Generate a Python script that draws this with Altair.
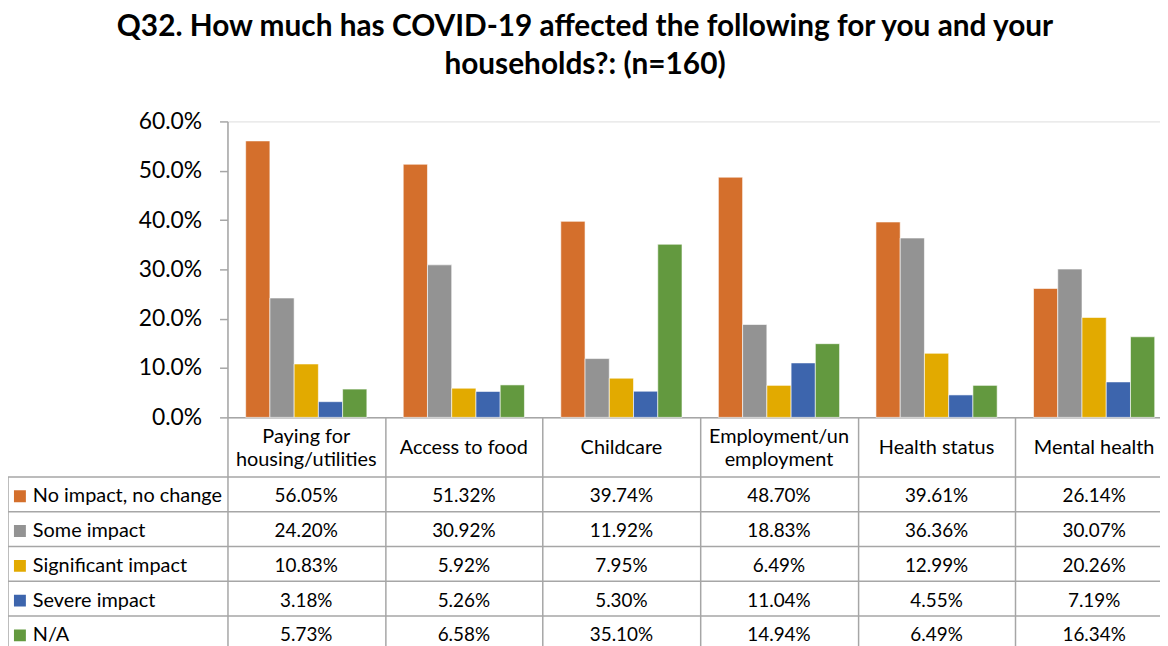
import altair as alt
import pandas as pd

FONT = "Lato"
GRID = "#A6A6A6"

categories = ["Paying for housing/utilities", "Access to food", "Childcare",
              "Employment/unemployment", "Health status", "Mental health"]
header_lines = [["Paying for", "housing/utilities"], ["Access to food"], ["Childcare"],
                ["Employment/un", "employment"], ["Health status"], ["Mental health"]]
series = ["No impact, no change", "Some impact", "Significant impact", "Severe impact", "N/A"]
no_impact = [56.05, 51.32, 39.74, 48.70, 39.61, 26.14]
some_impact = [24.20, 30.92, 11.92, 18.83, 36.36, 30.07]
significant_impact = [10.83, 5.92, 7.95, 6.49, 12.99, 20.26]
severe_impact = [3.18, 5.26, 5.30, 11.04, 4.55, 7.19]
not_applicable = [5.73, 6.58, 35.10, 14.94, 6.49, 16.34]
colors = ["#D46F2C", "#939393", "#E2AA00", "#3D65AD", "#63993F"]
y_ticks = [0.0, 0.1, 0.2, 0.3, 0.4, 0.5, 0.6]

series_values = [no_impact, some_impact, significant_impact, severe_impact, not_applicable]
rows = []
for s, vals in zip(series, series_values):
    for c, v in zip(categories, vals):
        rows.append({"category": c, "series": s, "value": v / 100.0})
df = pd.DataFrame(rows)

hrows = []
for c, lines in zip(categories, header_lines):
    n = len(lines)
    for i, t in enumerate(lines):
        hrows.append({"category": c, "text": t, "pos": i - (n - 1) / 2})
hdf = pd.DataFrame(hrows)

W, H = 939, 298
HEADER_H = 60
ROW_H = 35
LABEL_COL = 221
TICK_LEN = 235
LINE_H = 23

x_enc = alt.X(
    "category:N",
    sort=categories,
    scale=alt.Scale(domain=categories, range=[0, 952], paddingInner=0, paddingOuter=0),
    axis=alt.Axis(
        title=None, labels=False,
        tickBand="extent", tickSize=TICK_LEN, tickColor=GRID, tickWidth=1.5,
        domainColor=GRID, domainWidth=1.5,
    ),
)

table_y = alt.Scale(domain=series, range=[H + HEADER_H, H + HEADER_H + ROW_H * len(series)],
                    paddingInner=0, paddingOuter=0)

bars = alt.Chart(df).mark_bar(stroke="white", strokeWidth=1, strokeOpacity=0.6).encode(
    x=x_enc,
    xOffset=alt.XOffset("series:N", sort=series,
                        scale=alt.Scale(domain=series, paddingInner=0, paddingOuter=0.75)),
    y=alt.Y("value:Q", scale=alt.Scale(domain=[0, 0.6], nice=False, zero=True),
            axis=alt.Axis(title=None, values=y_ticks, format=".1%", grid=False,
                          labelFont=FONT, labelFontSize=23, labelColor="black",
                          tickSize=8, tickColor=GRID, tickWidth=1.5, labelPadding=18,
                          domainColor=GRID, domainWidth=1.5)),
    color=alt.Color("series:N", sort=series,
                    scale=alt.Scale(domain=series, range=colors),
                    legend=alt.Legend(orient="none", legendX=-219, legendY=H + HEADER_H + 2,
                                      title=None, symbolType="square", symbolSize=144,
                                      symbolStrokeWidth=0, labelFont=FONT, labelFontSize=20,
                                      labelColor="black", clipHeight=ROW_H, rowPadding=0,
                                      padding=0, labelOffset=3, labelLimit=300)),
)

header_text = alt.Chart(hdf).mark_text(font=FONT, fontSize=20, color="black",
                                       baseline="middle", dy=1).encode(
    x=x_enc,
    y=alt.Y("pos:Q", scale=alt.Scale(domain=[-1, 1],
                                     range=[H + HEADER_H / 2 - LINE_H,
                                            H + HEADER_H / 2 + LINE_H]),
            axis=None),
    text="text:N",
)

table_text = alt.Chart(df).mark_text(font=FONT, fontSize=19, color="black",
                                     baseline="middle", dy=2).encode(
    x=x_enc,
    y=alt.Y("series:N", sort=series, scale=table_y, axis=None),
    text=alt.Text("value:Q", format=".2%"),
)

row_lines = alt.Chart(pd.DataFrame({"series": series})).mark_rule(color=GRID, strokeWidth=1.5).encode(
    y=alt.Y("series:N", sort=series, scale=table_y, axis=None, bandPosition=0),
    x=alt.value(-LABEL_COL),
    x2=alt.value(952),
)

left_border = alt.Chart(pd.DataFrame({"k": [0]})).mark_rule(color=GRID, strokeWidth=1.5).encode(
    x=alt.value(-LABEL_COL),
    y=alt.value(H + HEADER_H),
    y2=alt.value(H + HEADER_H + ROW_H * len(series) + 20),
)

chart = alt.layer(bars, header_text, table_text, row_lines, left_border).resolve_scale(
    y="independent"
).properties(
    width=W,
    height=H,
    autosize=alt.AutoSizeParams(type="none"),
    padding={"left": LABEL_COL, "top": 112, "right": 0, "bottom": 228},
    title=alt.Title(
        text=["Q32. How much has COVID-19 affected the following for you and your",
              "households?: (n=160)"],
        font=FONT, fontSize=30, fontWeight="bold", color="black",
        anchor="middle", frame="group", dx=360 - W / 2, offset=1,
        lineHeight=38, baseline="bottom",
    ),
).configure_view(stroke=None).configure(background="white")

chart.save("out.html", embed_options={"renderer": "svg", "actions": False})
